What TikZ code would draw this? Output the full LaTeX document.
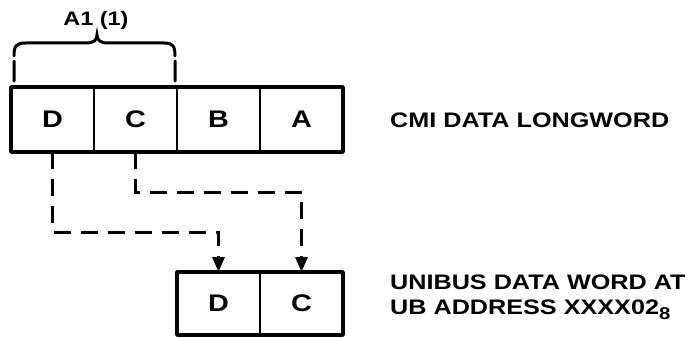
\documentclass[tikz,border=0pt]{standalone}
\usepackage{fontspec}
\setmainfont{Liberation Sans}[FakeStretch=1.2]
\usetikzlibrary{positioning,arrows.meta}

\begin{document}
\begin{tikzpicture}[x=1pt,y=-1pt,
		cell/.style={draw,line width=1.8pt,minimum width=83pt,inner sep=0pt,outer sep=0pt,font=\fontsize{24}{24}\selectfont\bfseries},
		frame/.style={line width=3.6pt,line join=round},
		link/.style={line width=3pt,dash pattern=on 17pt off 10pt,-{Triangle[length=15pt,width=12pt]}},
		note/.style={anchor=west,align=left,inner sep=0pt,font=\fontsize{21}{25}\selectfont\bfseries}]
			\useasboundingbox (0,0) rectangle (700,337);
			% longword
			\node[cell,minimum height=65pt] (d1) at (52.5,119.5) {D};
			\node[cell,minimum height=65pt,right=0pt of d1] (c1) {C};
			\node[cell,minimum height=65pt,right=0pt of c1] (b1) {B};
			\node[cell,minimum height=65pt,right=0pt of b1] (a1) {A};
			\draw[frame] (d1.north west) rectangle (a1.south east);
			% unibus word
			\node[cell,minimum height=63pt] (d2) at (218.5,303.5) {D};
			\node[cell,minimum height=63pt,right=0pt of d2] (c2) {C};
			\draw[frame] (d2.north west) rectangle (c2.south east);
			% brace
			\draw[line width=3pt,line cap=round]
			(14,56) .. controls (14,46) and (16,43) .. (26,43) -- (86,43)
			.. controls (94,43) and (97,40) .. (97,35)
			.. controls (97,40) and (100,43) .. (108,43) -- (164,43)
			.. controls (173,43) and (175,46) .. (175,56)
			(14,61) -- (14,81) (175,61) -- (175,81);
			\node[font=\fontsize{19.5}{19.5}\selectfont\bfseries] (word) at (96,20) {A1 (1)};
			% byte moves
			\draw[link] (d1.south) -- ++(0,80) -| (d2.north);
			\draw[link] (c1.south) -- ++(0,40) -| (c2.north);
			% labels
			\node[note] (cmi) at (390,120) {CMI DATA LONGWORD};
			\node[note] (ub) at (390,297) {UNIBUS DATA WORD AT\\UB ADDRESS XXXX02\raisebox{-5pt}{\fontsize{17}{17}\selectfont 8}};
		\end{tikzpicture}
\end{document}
